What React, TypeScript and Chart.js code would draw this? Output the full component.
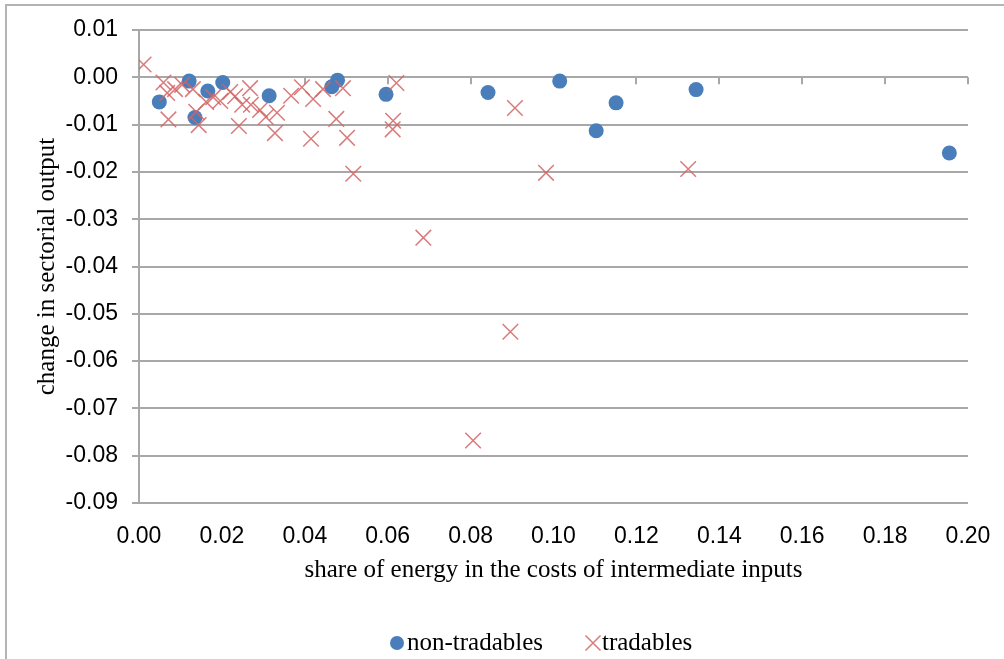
import { useEffect, useRef } from "react";
import { Chart, registerables } from "chart.js";

Chart.register(...registerables);

// share of energy in the costs of intermediate inputs (x) / change in sectorial output (y)
const nonTradablesX = [0.0049, 0.0121, 0.0135, 0.0166, 0.0202, 0.0314, 0.0465, 0.0479, 0.0596, 0.0842, 0.1015, 0.1103, 0.1151, 0.1344, 0.1955];
const nonTradablesY = [-0.0052, -0.0008, -0.0085, -0.0029, -0.0011, -0.0039, -0.002, -0.0006, -0.0036, -0.0032, -0.0008, -0.0113, -0.0054, -0.0026, -0.016];

const tradablesX = [
  0.0011, 0.0059, 0.0068, 0.0087, 0.0104, 0.0071, 0.0138, 0.0144, 0.013, 0.0179,
  0.0196, 0.022, 0.0232, 0.0241, 0.0268, 0.0249, 0.027, 0.0292, 0.0306, 0.0333,
  0.0328, 0.0367, 0.0393, 0.042, 0.0444, 0.0492, 0.0476, 0.0415, 0.0502, 0.0517,
  0.0621, 0.0613, 0.0612, 0.0686, 0.0806, 0.0896, 0.0907, 0.0982, 0.1325, 0.0162,
];
const tradablesY = [
  0.0027, -0.0011, -0.0033, -0.0025, -0.0016, -0.0089, -0.0073, -0.0101, -0.0025, -0.0042,
  -0.005, -0.0031, -0.004, -0.0103, -0.0023, -0.0058, -0.0058, -0.0069, -0.0084, -0.0075,
  -0.0118, -0.0039, -0.0021, -0.0046, -0.0025, -0.0023, -0.0088, -0.013, -0.0128, -0.0204,
  -0.0012, -0.0092, -0.011, -0.0339, -0.0768, -0.0538, -0.0065, -0.0202, -0.0194, -0.0052,
];

const seriesNames = ["non-tradables", "tradables"];
const xAxisTitle = "share of energy in the costs of intermediate inputs";
const yAxisTitle = "change in sectorial output";
const xRange = [0, 0.2, 0.02];
const yRange = [-0.09, 0.01, 0.01];

const BLUE = "#4a7ebb";
const RED = "rgba(210, 100, 100, 0.85)";
const GRID = "#a8a8a8";
const SANS = "'Liberation Sans', Arial, sans-serif";
const SERIF = "'Liberation Serif', 'Times New Roman', serif";

const fmt = (v: number) => (Math.abs(v) < 1e-9 ? 0 : v).toFixed(2);

const axisTicksAtZero = {
  id: "axisTicksAtZero",
  beforeDatasetsDraw(chart: any) {
    const { ctx, scales } = chart;
    const xs = scales.x;
    const y0 = scales.y.getPixelForValue(0);
    ctx.save();
    ctx.strokeStyle = GRID;
    ctx.lineWidth = 2;
    xs.ticks.forEach((t: any) => {
      const px = Math.round(xs.getPixelForValue(t.value));
      ctx.beginPath();
      ctx.moveTo(px, y0);
      ctx.lineTo(px, y0 + 7);
      ctx.stroke();
    });
    ctx.restore();
  },
};

const bottomLegend = {
  id: "bottomLegend",
  afterDraw(chart: any) {
    const { ctx } = chart;
    ctx.save();
    const cy = 643;
    ctx.fillStyle = BLUE;
    ctx.beginPath();
    ctx.arc(397, cy, 7, 0, Math.PI * 2);
    ctx.fill();
    ctx.font = `25px ${SERIF}`;
    ctx.fillStyle = "#000";
    ctx.textBaseline = "alphabetic";
    ctx.textAlign = "left";
    ctx.fillText(seriesNames[0], 407, 650);
    ctx.strokeStyle = RED;
    ctx.lineWidth = 1.5;
    ctx.beginPath();
    ctx.moveTo(593 - 7.5, cy - 7.5);
    ctx.lineTo(593 + 7.5, cy + 7.5);
    ctx.moveTo(593 + 7.5, cy - 7.5);
    ctx.lineTo(593 - 7.5, cy + 7.5);
    ctx.stroke();
    ctx.fillText(seriesNames[1], 602, 650);
    ctx.restore();
  },
};

export default function App() {
  const canvasRef = useRef<HTMLCanvasElement | null>(null);

  useEffect(() => {
    if (!canvasRef.current) return;
    const chart = new Chart(canvasRef.current, {
      type: "scatter",
      data: {
        datasets: [
          {
            label: seriesNames[0],
            data: nonTradablesX.map((x, i) => ({ x, y: nonTradablesY[i] })),
            backgroundColor: BLUE,
            borderColor: BLUE,
            borderWidth: 0,
            pointStyle: "circle",
            pointRadius: 7.5,
            order: 2,
          },
          {
            label: seriesNames[1],
            data: tradablesX.map((x, i) => ({ x, y: tradablesY[i] })),
            backgroundColor: RED,
            borderColor: RED,
            borderWidth: 1.5,
            pointStyle: "crossRot",
            pointRadius: 11,
            order: 1,
          },
        ],
      },
      options: {
        animation: false,
        responsive: true,
        maintainAspectRatio: false,
        layout: { padding: { left: 0, top: 30, right: 36, bottom: 71 } },
        plugins: {
          legend: { display: false },
          tooltip: { enabled: false },
        },
        scales: {
          x: {
            type: "linear",
            min: xRange[0],
            max: xRange[1],
            afterFit: (s: any) => {
              s.height = 85;
              s.paddingLeft = 0;
              s.paddingRight = 0;
            },
            grid: { display: false, drawTicks: false },
            border: { display: false },
            ticks: {
              stepSize: xRange[2],
              padding: 20,
              color: "#000",
              font: { family: SANS, size: 23, lineHeight: 1.2 },
              callback: (v: any) => fmt(Number(v)),
              maxRotation: 0,
            },
            title: {
              display: true,
              text: xAxisTitle,
              color: "#000",
              font: { family: SERIF, size: 25, lineHeight: 1.2 },
              padding: { top: 0, bottom: 3 },
            },
          },
          y: {
            type: "linear",
            min: yRange[0],
            max: yRange[1],
            afterFit: (s: any) => {
              s.width = 139;
              s.paddingTop = 0;
              s.paddingBottom = 0;
            },
            grid: {
              color: GRID,
              lineWidth: 2,
              drawTicks: true,
              tickLength: 7,
            },
            border: { display: true, color: GRID, width: 2 },
            ticks: {
              stepSize: yRange[2],
              padding: 14,
              color: "#000",
              font: { family: SANS, size: 23, lineHeight: 1.2 },
              callback: (v: any) => fmt(Number(v)),
            },
            title: {
              display: true,
              text: yAxisTitle,
              color: "#000",
              font: { family: SERIF, size: 25, lineHeight: 1.2 },
              padding: { top: 32, bottom: 0 },
            },
          },
        },
      },
      plugins: [axisTicksAtZero, bottomLegend],
    });
    return () => chart.destroy();
  }, []);

  return (
    <div style={{ position: "absolute", left: 0, top: 0, width: 1004, height: 659, overflow: "hidden", background: "#fff" }}>
      <div
        style={{
          position: "absolute",
          left: 5,
          top: 4,
          width: 1200,
          height: 900,
          border: "2px solid #b4b4b4",
        }}
      />
      <div style={{ position: "absolute", left: 0, top: 0, width: 1004, height: 659 }}>
        <canvas ref={canvasRef} />
      </div>
    </div>
  );
}
